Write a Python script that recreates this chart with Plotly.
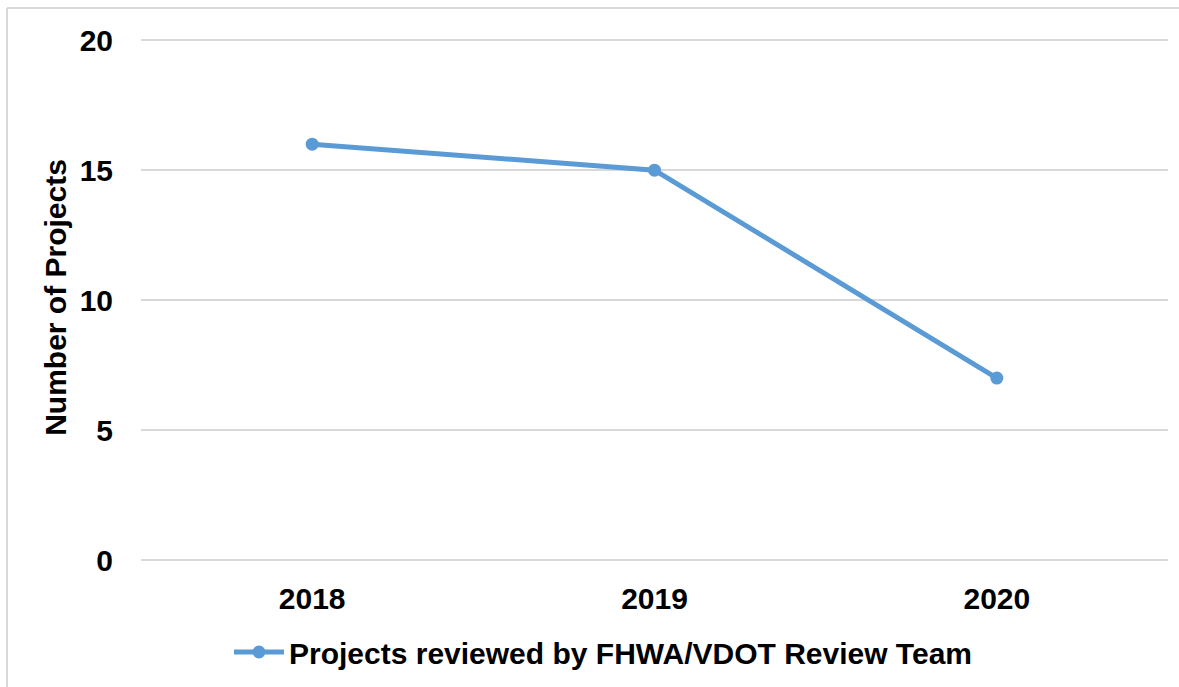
import plotly.graph_objects as go

years = ["2018", "2019", "2020"]
projects = [16, 15, 7]
series_name = "Projects reviewed by FHWA/VDOT Review Team"
y_ticks = [0, 5, 10, 15, 20]

FONT = "Liberation Sans, Arial, sans-serif"
BLUE = "#5B9BD5"
GRID = "#d9d9d9"
FS = 30

fig = go.Figure()
fig.add_trace(go.Scatter(
    x=years, y=projects, mode="lines+markers", name=series_name,
    line=dict(color=BLUE, width=5),
    marker=dict(color=BLUE, size=13),
))

W, H = 1179, 687
L, R, T, B = 141, 11, 35, 127
pw, ph = W - L - R, H - T - B

def px_x(px):
    return (px - L) / pw

def px_y(py):
    return (H - B - py) / ph

bold = dict(family=FONT, size=FS, color="black", weight="bold")

fig.update_layout(
    width=W, height=H,
    margin=dict(l=L, r=R, t=T, b=B, autoexpand=False),
    paper_bgcolor="white", plot_bgcolor="white",
    font=dict(family=FONT, size=FS, color="black"),
    showlegend=True,
    legend=dict(orientation="h", x=px_x(603), xanchor="center",
                y=px_y(652), yanchor="middle", font=bold, itemwidth=50),
    xaxis=dict(type="category", range=[-0.5, 2.5], showgrid=False,
               showline=False, zeroline=False,
               ticks="outside", ticklen=12, tickcolor="rgba(0,0,0,0)",
               tickfont=bold),
    yaxis=dict(range=[0, 20.2], tickvals=y_ticks, showgrid=True, gridcolor=GRID,
               gridwidth=2, zeroline=True, zerolinecolor=GRID, zerolinewidth=2,
               showline=False,
               ticks="outside", ticklen=21, tickcolor="rgba(0,0,0,0)",
               tickfont=bold,
               title=dict(text="Number of Projects", standoff=4, font=bold)),
    shapes=[
        dict(type="line", xref="paper", yref="paper",
             x0=px_x(7), x1=px_x(1179), y0=px_y(8), y1=px_y(8),
             line=dict(color=GRID, width=2)),
        dict(type="line", xref="paper", yref="paper",
             x0=px_x(7), x1=px_x(7), y0=px_y(8), y1=px_y(687),
             line=dict(color=GRID, width=2)),
    ],
)

fig.write_html("out.html", config={"displayModeBar": False})
with open("out.html", "r", encoding="utf-8") as f:
    html = f.read()
html = html.replace("<head>", "<head><style>html,body{margin:0;padding:0;overflow:hidden;}</style>", 1)
with open("out.html", "w", encoding="utf-8") as f:
    f.write(html)
